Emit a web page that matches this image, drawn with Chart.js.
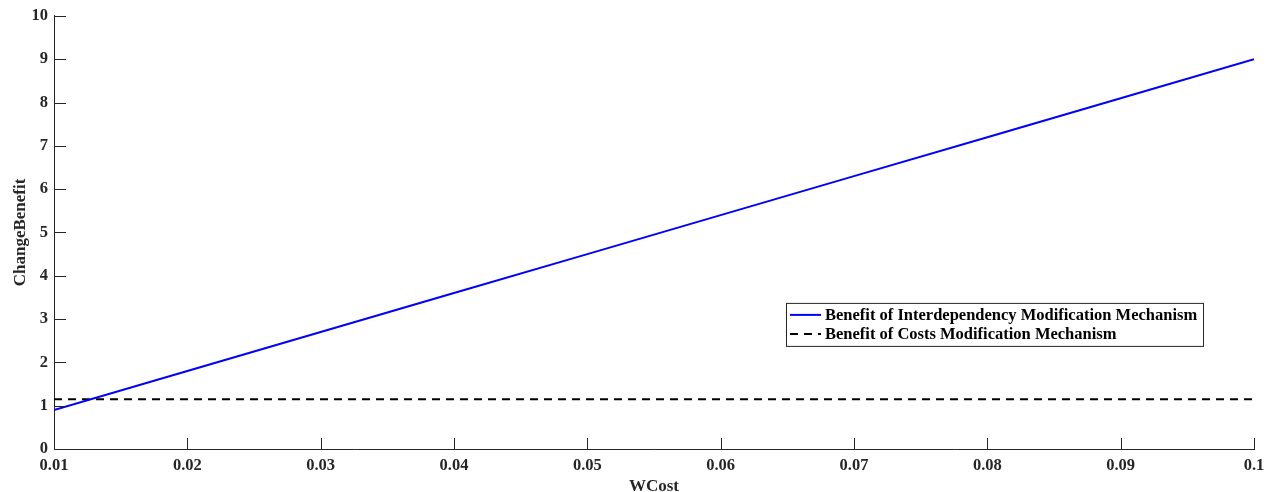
<!DOCTYPE html>
<html>
<head>
<meta charset="utf-8">
<script src="https://cdn.jsdelivr.net/npm/chart.js@4.4.1/dist/chart.umd.min.js"></script>
<style>
  html, body { margin: 0; padding: 0; background: #fff; }
  #wrap { width: 1272px; height: 492px; }
</style>
</head>
<body>
<div id="wrap"><canvas id="benefitChart"></canvas></div>
<script>
// values
const wCost = [0.01, 0.02, 0.03, 0.04, 0.05, 0.06, 0.07, 0.08, 0.09, 0.1];
const interdependencyBenefit = [0.9, 1.8, 2.7, 3.6, 4.5, 5.4, 6.3, 7.2, 8.1, 9.0];
const costsBenefit = [1.15, 1.15, 1.15, 1.15, 1.15, 1.15, 1.15, 1.15, 1.15, 1.15];
const xTicks = [0.01, 0.02, 0.03, 0.04, 0.05, 0.06, 0.07, 0.08, 0.09, 0.1];
const yTicks = [0, 1, 2, 3, 4, 5, 6, 7, 8, 9, 10];
const seriesNames = ['Benefit of Interdependency Modification Mechanism', 'Benefit of Costs Modification Mechanism'];

const axisColor = '#262626';
const serif = '"Liberation Serif", "Times New Roman", serif';

// matlab style ticks pointing into the plot
const innerTicks = {
    id: 'innerTicks',
    afterDraw(chart) {
        const ctx = chart.ctx;
        const area = chart.chartArea;
        const x = chart.scales.x, y = chart.scales.y;
        ctx.save();
        ctx.strokeStyle = axisColor;
        ctx.lineWidth = 1;
        ctx.beginPath();
        x.ticks.forEach(t => {
            const px = Math.round(x.getPixelForValue(t.value)) + 0.5;
            ctx.moveTo(px, area.bottom);
            ctx.lineTo(px, area.bottom - 11);
        });
        y.ticks.forEach(t => {
            const py = Math.round(y.getPixelForValue(t.value)) + 0.5;
            ctx.moveTo(area.left, py);
            ctx.lineTo(area.left + 12, py);
        });
        ctx.stroke();
        ctx.restore();
    }
};

// boxed legend inside the axes, like the original figure
const boxLegend = {
    id: 'boxLegend',
    afterDraw(chart) {
        const ctx = chart.ctx;
        const area = chart.chartArea;
        const w = 417, h = 43;
        const left = area.right - 51 - w;
        const top = area.top + 287;
        ctx.save();
        ctx.fillStyle = '#fff';
        ctx.fillRect(left, top, w, h);
        ctx.strokeStyle = axisColor;
        ctx.lineWidth = 1;
        ctx.strokeRect(left + 0.5, top + 0.5, w, h);
        ctx.font = 'bold 16.5px ' + serif;
        ctx.textBaseline = 'middle';
        ctx.fillStyle = '#000';
        chart.data.datasets.forEach((ds, i) => {
            const cy = top + 12 + i * 19;
            ctx.beginPath();
            ctx.strokeStyle = ds.borderColor;
            ctx.lineWidth = 2;
            ctx.setLineDash(ds.borderDash || []);
            ctx.moveTo(left + 4, cy);
            ctx.lineTo(left + 35, cy);
            ctx.stroke();
            ctx.setLineDash([]);
            ctx.fillText(ds.label, left + 39, cy + 1);
        });
        ctx.restore();
    }
};

const ctx = document.getElementById('benefitChart').getContext('2d');
new Chart(ctx, {
    type: 'line',
    data: {
        datasets: [{
            label: seriesNames[0],
            data: wCost.map((v, i) => ({ x: v, y: interdependencyBenefit[i] })),
            borderColor: '#0000ff',
            borderWidth: 2,
            pointRadius: 0,
            fill: false
        }, {
            label: seriesNames[1],
            data: wCost.map((v, i) => ({ x: v, y: costsBenefit[i] })),
            borderColor: '#000000',
            borderWidth: 2,
            borderDash: [8, 6],
            pointRadius: 0,
            fill: false
        }]
    },
    options: {
        responsive: true,
        maintainAspectRatio: false,
        animation: false,
        layout: { padding: { top: 15, right: 18, left: 0, bottom: 0 } },
        plugins: {
            legend: { display: false },
            tooltip: { enabled: false }
        },
        scales: {
            x: {
                type: 'linear',
                min: 0.01,
                max: 0.1,
                afterBuildTicks: scale => { scale.ticks = xTicks.map(v => ({ value: v })); },
                afterFit: scale => { scale.height = 43; },
                ticks: {
                    color: axisColor,
                    font: { family: serif, size: 16.5, weight: 'bold' },
                    padding: 7,
                    maxRotation: 0,
                    callback: v => String(+v.toFixed(2))
                },
                grid: { drawOnChartArea: false, drawTicks: false },
                border: { display: true, color: axisColor, width: 1 },
                title: {
                    display: true,
                    text: 'WCost',
                    color: axisColor,
                    font: { family: serif, size: 17, weight: 'bold', lineHeight: 1 },
                    padding: { top: 0, bottom: -3 }
                }
            },
            y: {
                min: 0,
                max: 10,
                afterBuildTicks: scale => { scale.ticks = yTicks.map(v => ({ value: v })); },
                afterFit: scale => { scale.width = 54; },
                ticks: {
                    color: axisColor,
                    font: { family: serif, size: 16.5, weight: 'bold' },
                    padding: 6
                },
                grid: { drawOnChartArea: false, drawTicks: false },
                border: { display: true, color: axisColor, width: 1 },
                title: {
                    display: true,
                    text: 'ChangeBenefit',
                    color: axisColor,
                    font: { family: serif, size: 17, weight: 'bold' },
                    padding: { top: 10, bottom: 0 }
                }
            }
        }
    },
    plugins: [innerTicks, boxLegend]
});
</script>
</body>
</html>
